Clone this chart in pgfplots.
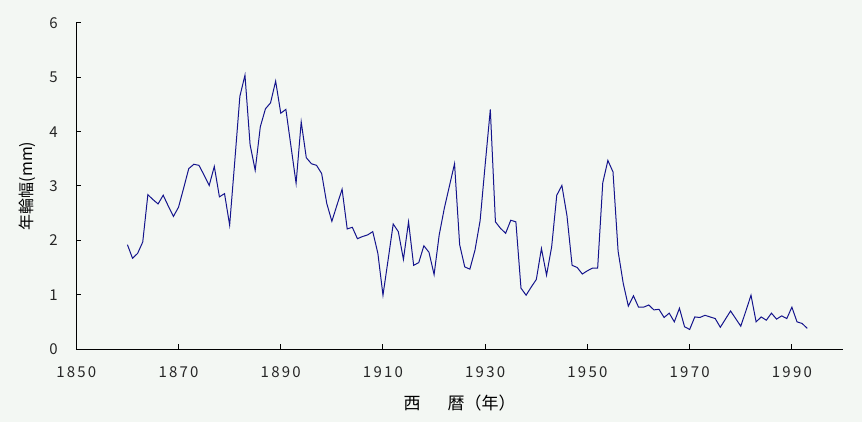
\documentclass[border=0pt]{standalone}
\usepackage{fontspec}
\setmainfont{Noto Sans CJK JP}
\newfontfamily\tickfont{Noto Sans CJK JP}[LetterSpace=15]
\usepackage{pgfplots}
\usepackage{pgfplotstable}
\pgfplotsset{compat=1.18}
\definecolor{bg}{RGB}{243,247,243}
\definecolor{ln}{RGB}{20,20,140}
\pgfplotstableread{
year val
1860 1.92
1861 1.67
1862 1.76
1863 1.97
1864 2.84
1865 2.75
1866 2.67
1867 2.83
1868 2.63
1869 2.44
1870 2.61
1871 2.96
1872 3.32
1873 3.40
1874 3.38
1875 3.20
1876 3.01
1877 3.36
1878 2.80
1879 2.86
1880 2.28
1881 3.45
1882 4.65
1883 5.04
1884 3.76
1885 3.29
1886 4.09
1887 4.42
1888 4.53
1889 4.93
1890 4.34
1891 4.41
1892 3.73
1893 3.05
1894 4.18
1895 3.52
1896 3.41
1897 3.38
1898 3.23
1899 2.68
1900 2.35
1901 2.65
1902 2.94
1903 2.21
1904 2.24
1905 2.03
1906 2.07
1907 2.10
1908 2.16
1909 1.76
1910 0.99
1911 1.64
1912 2.30
1913 2.16
1914 1.65
1915 2.34
1916 1.54
1917 1.59
1918 1.90
1919 1.78
1920 1.37
1921 2.10
1922 2.59
1923 3.00
1924 3.41
1925 1.92
1926 1.51
1927 1.47
1928 1.82
1929 2.36
1930 3.40
1931 4.41
1932 2.34
1933 2.22
1934 2.13
1935 2.37
1936 2.34
1937 1.12
1938 0.99
1939 1.14
1940 1.28
1941 1.85
1942 1.36
1943 1.88
1944 2.83
1945 3.01
1946 2.45
1947 1.54
1948 1.50
1949 1.38
1950 1.44
1951 1.49
1952 1.49
1953 3.06
1954 3.47
1955 3.26
1956 1.80
1957 1.21
1958 0.79
1959 0.98
1960 0.77
1961 0.77
1962 0.81
1963 0.72
1964 0.73
1965 0.58
1966 0.66
1967 0.50
1968 0.75
1969 0.41
1970 0.36
1971 0.59
1972 0.58
1973 0.62
1974 0.59
1975 0.56
1976 0.40
1977 0.55
1978 0.70
1979 0.56
1980 0.42
1981 0.70
1982 0.99
1983 0.50
1984 0.59
1985 0.53
1986 0.66
1987 0.55
1988 0.61
1989 0.56
1990 0.77
1991 0.50
1992 0.47
1993 0.38
}\ringdata
\begin{document}
\begin{tikzpicture}
\useasboundingbox[fill=bg] (-76.3bp,-73bp) rectangle (785.7bp,349bp);
\begin{axis}[
  scale only axis,
  width=766.7bp, height=326bp,
  xmin=1850, xmax=2000, ymin=0, ymax=6,
  axis x line=bottom, axis y line=left,
  axis line style={-, line width=1bp, black},
  xtick={1850,1870,...,1990}, ytick={0,1,...,6},
  tick align=inside, major tick length=5bp,
  tick style={black, line width=1bp},
  /pgf/number format/1000 sep={},
  /pgf/number format/assume math mode=true,
  tick label style={font=\tickfont\fontsize{15bp}{18bp}\selectfont, black!85},
  xticklabel style={yshift=-14bp},
  yticklabel style={xshift=-15bp},
  ylabel={年輪幅(mm)},
  ylabel style={at={(rel axis cs:0,0.5)}, anchor=center, yshift=49bp, font=\fontsize{16bp}{19bp}\selectfont},
  xlabel={西\hspace{1.6em}暦（年）},
  xlabel style={at={(rel axis cs:0.5,0)}, anchor=center, yshift=-54bp, font=\fontsize{17bp}{20bp}\selectfont},
  clip=false,
]
\addplot[ln, line width=1bp, mark=none] table[x=year, y=val] {\ringdata};
\end{axis}
\end{tikzpicture}
\end{document}
